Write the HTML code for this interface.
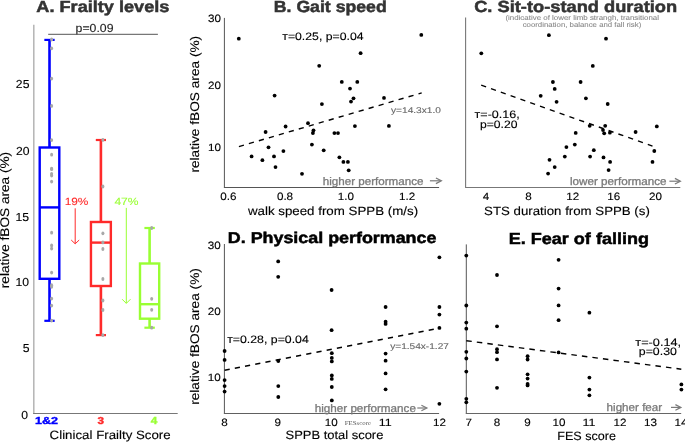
<!DOCTYPE html>
<html><head><meta charset="utf-8"><style>
html,body{margin:0;padding:0;background:#fff;}
body{width:685px;height:442px;overflow:hidden;font-family:"Liberation Sans", sans-serif;}
svg{display:block;will-change:transform;text-rendering:geometricPrecision;}
</style></head><body>
<svg width="685" height="442" viewBox="0 0 685 442">
<rect width="685" height="442" fill="#fff"/>
<text x="36.35" y="12.00" font-family='"Liberation Sans", sans-serif' font-size="16" font-weight="bold" fill="#333333" textLength="132.99" lengthAdjust="spacingAndGlyphs" stroke="#333333" stroke-width="0.5">A. Frailty levels</text>
<text x="75.61" y="31.70" font-family='"Liberation Sans", sans-serif' font-size="11.6" font-weight="normal" fill="#222" textLength="37.87" lengthAdjust="spacingAndGlyphs" stroke="#222" stroke-width="0.12">p=0.09</text>
<line x1="48.2" y1="34.3" x2="157.9" y2="34.3" stroke="#555" stroke-width="1"/>
<line x1="33.8" y1="24.8" x2="33.8" y2="413.5" stroke="#b4b4b4" stroke-width="1.5"/>
<line x1="33.1" y1="413.5" x2="177.7" y2="413.5" stroke="#777" stroke-width="1"/>
<text x="15.86" y="87.50" font-family='"Liberation Sans", sans-serif' font-size="11.6" font-weight="normal" fill="#000" textLength="13.55" lengthAdjust="spacingAndGlyphs" stroke="#000" stroke-width="0.12">25</text>
<text x="15.93" y="154.80" font-family='"Liberation Sans", sans-serif' font-size="11.6" font-weight="normal" fill="#000" textLength="13.55" lengthAdjust="spacingAndGlyphs" stroke="#000" stroke-width="0.12">20</text>
<text x="15.56" y="220.80" font-family='"Liberation Sans", sans-serif' font-size="11.6" font-weight="normal" fill="#000" textLength="13.55" lengthAdjust="spacingAndGlyphs" stroke="#000" stroke-width="0.12">15</text>
<text x="15.53" y="286.40" font-family='"Liberation Sans", sans-serif' font-size="11.6" font-weight="normal" fill="#000" textLength="13.55" lengthAdjust="spacingAndGlyphs" stroke="#000" stroke-width="0.12">10</text>
<text x="22.84" y="351.60" font-family='"Liberation Sans", sans-serif' font-size="11.6" font-weight="normal" fill="#000" textLength="6.77" lengthAdjust="spacingAndGlyphs" stroke="#000" stroke-width="0.12">5</text>
<text x="21.20" y="419.00" font-family='"Liberation Sans", sans-serif' font-size="11.6" font-weight="normal" fill="#000" textLength="6.77" lengthAdjust="spacingAndGlyphs" stroke="#000" stroke-width="0.12">0</text>
<text transform="translate(9.30,287.30) rotate(-90)" x="-0.91" y="0" font-family='"Liberation Sans", sans-serif' font-size="12.5" font-weight="normal" fill="#000" stroke="#000" stroke-width="0.12" textLength="136.35" lengthAdjust="spacingAndGlyphs">relative fBOS area (%)</text>
<rect x="39.7" y="147.5" width="19.6" height="131.3" fill="none" stroke="#0000ff" stroke-width="2.4"/>
<line x1="39.7" y1="207.4" x2="59.3" y2="207.4" stroke="#0000ff" stroke-width="2.4"/>
<line x1="49.5" y1="39.9" x2="49.5" y2="147.5" stroke="#0000ff" stroke-width="2.6"/>
<line x1="49.5" y1="278.8" x2="49.5" y2="320.8" stroke="#0000ff" stroke-width="2.6"/>
<line x1="44.35" y1="39.9" x2="54.65" y2="39.9" stroke="#0000ff" stroke-width="2.2"/>
<line x1="44.35" y1="320.8" x2="54.65" y2="320.8" stroke="#0000ff" stroke-width="2.2"/>
<rect x="90.95" y="222.0" width="19.9" height="64.0" fill="none" stroke="#ff2a2a" stroke-width="2.4"/>
<line x1="90.95" y1="242.6" x2="110.85000000000001" y2="242.6" stroke="#ff2a2a" stroke-width="2.4"/>
<line x1="100.9" y1="140.0" x2="100.9" y2="222.0" stroke="#ff2a2a" stroke-width="2.6"/>
<line x1="100.9" y1="286.0" x2="100.9" y2="335.1" stroke="#ff2a2a" stroke-width="2.6"/>
<line x1="95.80000000000001" y1="140.0" x2="106.0" y2="140.0" stroke="#ff2a2a" stroke-width="2.2"/>
<line x1="95.80000000000001" y1="335.1" x2="106.0" y2="335.1" stroke="#ff2a2a" stroke-width="2.2"/>
<rect x="140.0" y="263.5" width="19.2" height="55.19999999999999" fill="none" stroke="#99ff33" stroke-width="2.4"/>
<line x1="140.0" y1="304.2" x2="159.2" y2="304.2" stroke="#99ff33" stroke-width="2.4"/>
<line x1="149.6" y1="228.0" x2="149.6" y2="263.5" stroke="#99ff33" stroke-width="2.6"/>
<line x1="149.6" y1="318.7" x2="149.6" y2="327.7" stroke="#99ff33" stroke-width="2.6"/>
<line x1="144.4" y1="228.0" x2="154.79999999999998" y2="228.0" stroke="#99ff33" stroke-width="2.2"/>
<line x1="144.4" y1="327.7" x2="154.79999999999998" y2="327.7" stroke="#99ff33" stroke-width="2.2"/>
<ellipse cx="51.6" cy="39.5" rx="1.5" ry="1.9" fill="#a8a8a8"/>
<ellipse cx="51.6" cy="48.3" rx="1.5" ry="1.9" fill="#a8a8a8"/>
<ellipse cx="51.6" cy="78.6" rx="1.5" ry="1.9" fill="#a8a8a8"/>
<ellipse cx="51.6" cy="105.9" rx="1.5" ry="1.9" fill="#a8a8a8"/>
<ellipse cx="51.6" cy="140.1" rx="1.5" ry="1.9" fill="#a8a8a8"/>
<ellipse cx="51.6" cy="154.7" rx="1.5" ry="1.9" fill="#a8a8a8"/>
<ellipse cx="51.6" cy="168.6" rx="1.5" ry="1.9" fill="#a8a8a8"/>
<ellipse cx="51.6" cy="169.2" rx="1.5" ry="1.9" fill="#a8a8a8"/>
<ellipse cx="51.6" cy="173.8" rx="1.5" ry="1.9" fill="#a8a8a8"/>
<ellipse cx="51.6" cy="175.5" rx="1.5" ry="1.9" fill="#a8a8a8"/>
<ellipse cx="51.6" cy="181.6" rx="1.5" ry="1.9" fill="#a8a8a8"/>
<ellipse cx="51.6" cy="232.7" rx="1.5" ry="1.9" fill="#a8a8a8"/>
<ellipse cx="51.6" cy="245.5" rx="1.5" ry="1.9" fill="#a8a8a8"/>
<ellipse cx="51.6" cy="248.6" rx="1.5" ry="1.9" fill="#a8a8a8"/>
<ellipse cx="51.6" cy="272.6" rx="1.5" ry="1.9" fill="#a8a8a8"/>
<ellipse cx="51.6" cy="285.2" rx="1.5" ry="1.9" fill="#a8a8a8"/>
<ellipse cx="51.6" cy="286.8" rx="1.5" ry="1.9" fill="#a8a8a8"/>
<ellipse cx="51.6" cy="298.6" rx="1.5" ry="1.9" fill="#a8a8a8"/>
<ellipse cx="51.6" cy="305.6" rx="1.5" ry="1.9" fill="#a8a8a8"/>
<ellipse cx="51.6" cy="320.6" rx="1.5" ry="1.9" fill="#a8a8a8"/>
<ellipse cx="102.9" cy="139.9" rx="1.5" ry="1.9" fill="#a8a8a8"/>
<ellipse cx="102.9" cy="186.5" rx="1.5" ry="1.9" fill="#a8a8a8"/>
<ellipse cx="102.9" cy="233.3" rx="1.5" ry="1.9" fill="#a8a8a8"/>
<ellipse cx="102.9" cy="242.4" rx="1.5" ry="1.9" fill="#a8a8a8"/>
<ellipse cx="102.9" cy="249" rx="1.5" ry="1.9" fill="#a8a8a8"/>
<ellipse cx="102.9" cy="279.0" rx="1.5" ry="1.9" fill="#a8a8a8"/>
<ellipse cx="102.9" cy="300.5" rx="1.5" ry="1.9" fill="#a8a8a8"/>
<ellipse cx="102.9" cy="310" rx="1.5" ry="1.9" fill="#a8a8a8"/>
<ellipse cx="102.9" cy="335.1" rx="1.5" ry="1.9" fill="#a8a8a8"/>
<ellipse cx="151.7" cy="228" rx="1.5" ry="1.9" fill="#a8a8a8"/>
<ellipse cx="151.7" cy="298.8" rx="1.5" ry="1.9" fill="#a8a8a8"/>
<ellipse cx="151.7" cy="309.8" rx="1.5" ry="1.9" fill="#a8a8a8"/>
<ellipse cx="151.7" cy="327.7" rx="1.5" ry="1.9" fill="#a8a8a8"/>
<text x="64.70" y="204.70" font-family='"Liberation Sans", sans-serif' font-size="10.5" font-weight="normal" fill="#ff2a2a" textLength="23.73" lengthAdjust="spacingAndGlyphs" stroke="#ff2a2a" stroke-width="0.1">19%</text>
<line x1="75.2" y1="208.3" x2="75.2" y2="243.5" stroke="#ff2a2a" stroke-width="1"/>
<polyline points="71.2,240 75.2,243.8 79.2,240" fill="none" stroke="#ff2a2a" stroke-width="1"/>
<text x="114.42" y="204.70" font-family='"Liberation Sans", sans-serif' font-size="10.5" font-weight="normal" fill="#99ff33" textLength="24.11" lengthAdjust="spacingAndGlyphs" stroke="#99ff33" stroke-width="0.1">47%</text>
<line x1="126.3" y1="207.9" x2="126.3" y2="303.2" stroke="#99ff33" stroke-width="1"/>
<polyline points="122.1,299.2 126.3,303.4 130.5,299.2" fill="none" stroke="#99ff33" stroke-width="1"/>
<text x="35.01" y="423.80" font-family='"Liberation Sans", sans-serif' font-size="10.2" font-weight="bold" fill="#0000ff" textLength="22.99" lengthAdjust="spacingAndGlyphs" stroke="#0000ff" stroke-width="0.4">1&amp;2</text>
<text x="97.62" y="423.80" font-family='"Liberation Sans", sans-serif' font-size="10.2" font-weight="bold" fill="#ff2a2a" textLength="6.52" lengthAdjust="spacingAndGlyphs" stroke="#ff2a2a" stroke-width="0.4">3</text>
<text x="150.68" y="423.80" font-family='"Liberation Sans", sans-serif' font-size="10.2" font-weight="bold" fill="#99ff33" textLength="6.52" lengthAdjust="spacingAndGlyphs" stroke="#99ff33" stroke-width="0.4">4</text>
<text x="49.63" y="439.40" font-family='"Liberation Sans", sans-serif' font-size="12" font-weight="normal" fill="#000" textLength="121.06" lengthAdjust="spacingAndGlyphs" stroke="#000" stroke-width="0.12">Clinical Frailty Score</text>
<text x="273.82" y="12.00" font-family='"Liberation Sans", sans-serif' font-size="16" font-weight="bold" fill="#333333" textLength="112.85" lengthAdjust="spacingAndGlyphs" stroke="#333333" stroke-width="0.5">B. Gait speed</text>
<text x="282.29" y="40.20" font-family='"Liberation Sans", sans-serif' font-size="10.75" font-weight="normal" fill="#000" textLength="81.27" lengthAdjust="spacingAndGlyphs" stroke="#000" stroke-width="0.12">т=0.25, p=0.04</text>
<line x1="224.4" y1="17.9" x2="224.4" y2="187.3" stroke="#555" stroke-width="1"/>
<line x1="223.9" y1="187.5" x2="439.1" y2="187.5" stroke="#555" stroke-width="1"/>
<text x="207.99" y="22.20" font-family='"Liberation Sans", sans-serif' font-size="10.6" font-weight="normal" fill="#000" textLength="12.97" lengthAdjust="spacingAndGlyphs" stroke="#000" stroke-width="0.12">30</text>
<text x="207.99" y="88.50" font-family='"Liberation Sans", sans-serif' font-size="10.6" font-weight="normal" fill="#000" textLength="12.97" lengthAdjust="spacingAndGlyphs" stroke="#000" stroke-width="0.12">20</text>
<text x="207.99" y="151.20" font-family='"Liberation Sans", sans-serif' font-size="10.6" font-weight="normal" fill="#000" textLength="12.97" lengthAdjust="spacingAndGlyphs" stroke="#000" stroke-width="0.12">10</text>
<text transform="translate(198.60,171.70) rotate(-90)" x="-0.91" y="0" font-family='"Liberation Sans", sans-serif' font-size="12.5" font-weight="normal" fill="#000" stroke="#000" stroke-width="0.12" textLength="136.76" lengthAdjust="spacingAndGlyphs">relative fBOS area (%)</text>
<text x="220.32" y="199.80" font-family='"Liberation Sans", sans-serif' font-size="10.6" font-weight="normal" fill="#000" textLength="16.21" lengthAdjust="spacingAndGlyphs" stroke="#000" stroke-width="0.12">0.6</text>
<text x="276.92" y="199.80" font-family='"Liberation Sans", sans-serif' font-size="10.6" font-weight="normal" fill="#000" textLength="16.21" lengthAdjust="spacingAndGlyphs" stroke="#000" stroke-width="0.12">0.8</text>
<text x="337.68" y="199.80" font-family='"Liberation Sans", sans-serif' font-size="10.6" font-weight="normal" fill="#000" textLength="16.21" lengthAdjust="spacingAndGlyphs" stroke="#000" stroke-width="0.12">1.0</text>
<text x="399.14" y="199.80" font-family='"Liberation Sans", sans-serif' font-size="10.6" font-weight="normal" fill="#000" textLength="16.21" lengthAdjust="spacingAndGlyphs" stroke="#000" stroke-width="0.12">1.2</text>
<text x="247.92" y="214.90" font-family='"Liberation Sans", sans-serif' font-size="12" font-weight="normal" fill="#000" textLength="170.21" lengthAdjust="spacingAndGlyphs" stroke="#000" stroke-width="0.12">walk speed from SPPB (m/s)</text>
<text x="322.69" y="184.50" font-family='"Liberation Sans", sans-serif' font-size="11" font-weight="normal" fill="#7a7a7a" textLength="100.82" lengthAdjust="spacingAndGlyphs" stroke="#7a7a7a" stroke-width="0.3">higher performance</text>
<line x1="429.9" y1="180.8" x2="440.79999999999995" y2="180.8" stroke="#7a7a7a" stroke-width="1.2"/>
<polyline points="435.9,178.0 441.4,180.8 435.9,183.60000000000002" fill="none" stroke="#7a7a7a" stroke-width="1.2"/>
<text x="390.98" y="113.00" font-family='"Liberation Sans", sans-serif' font-size="8.4" font-weight="normal" fill="#666" textLength="50.02" lengthAdjust="spacingAndGlyphs" stroke="#666" stroke-width="0.1">y=14.3x1.0</text>
<line x1="238.9" y1="146.6" x2="421.7" y2="92.9" stroke="#000" stroke-width="1.4" stroke-dasharray="5.2 5.2"/>
<circle cx="238.8" cy="38.7" r="1.9" fill="#000"/>
<circle cx="319.2" cy="65.8" r="1.9" fill="#000"/>
<circle cx="274.6" cy="95.6" r="1.9" fill="#000"/>
<circle cx="421.3" cy="34.9" r="1.9" fill="#000"/>
<circle cx="360.6" cy="53.2" r="1.9" fill="#000"/>
<circle cx="341.8" cy="81.9" r="1.9" fill="#000"/>
<circle cx="357.3" cy="81.9" r="1.9" fill="#000"/>
<circle cx="350.0" cy="88.6" r="1.9" fill="#000"/>
<circle cx="353.5" cy="98.3" r="1.9" fill="#000"/>
<circle cx="351.0" cy="101.6" r="1.9" fill="#000"/>
<circle cx="384.0" cy="97.9" r="1.9" fill="#000"/>
<circle cx="321.9" cy="104.1" r="1.9" fill="#000"/>
<circle cx="308.0" cy="123.2" r="1.9" fill="#000"/>
<circle cx="285.6" cy="126.5" r="1.9" fill="#000"/>
<circle cx="265.6" cy="132.0" r="1.9" fill="#000"/>
<circle cx="313.5" cy="130.3" r="1.9" fill="#000"/>
<circle cx="312.9" cy="133.0" r="1.9" fill="#000"/>
<circle cx="334.4" cy="133.1" r="1.9" fill="#000"/>
<circle cx="338.0" cy="133.1" r="1.9" fill="#000"/>
<circle cx="268.5" cy="147.3" r="1.9" fill="#000"/>
<circle cx="311.9" cy="144.6" r="1.9" fill="#000"/>
<circle cx="283.4" cy="151.1" r="1.9" fill="#000"/>
<circle cx="323.7" cy="150.3" r="1.9" fill="#000"/>
<circle cx="251.6" cy="156.4" r="1.9" fill="#000"/>
<circle cx="262.4" cy="160.2" r="1.9" fill="#000"/>
<circle cx="274.0" cy="156.4" r="1.9" fill="#000"/>
<circle cx="339.4" cy="157.3" r="1.9" fill="#000"/>
<circle cx="275.5" cy="167.1" r="1.9" fill="#000"/>
<circle cx="302.0" cy="173.8" r="1.9" fill="#000"/>
<circle cx="354.9" cy="126.1" r="1.9" fill="#000"/>
<circle cx="388.9" cy="125.9" r="1.9" fill="#000"/>
<circle cx="343.4" cy="161.9" r="1.9" fill="#000"/>
<circle cx="347.9" cy="161.9" r="1.9" fill="#000"/>
<circle cx="348.7" cy="170.3" r="1.9" fill="#000"/>
<text x="474.15" y="12.00" font-family='"Liberation Sans", sans-serif' font-size="16" font-weight="bold" fill="#333333" textLength="202.98" lengthAdjust="spacingAndGlyphs" stroke="#333333" stroke-width="0.5">C. Sit-to-stand duration</text>
<text x="505.41" y="20.40" font-family='"Liberation Sans", sans-serif' font-size="7" font-weight="normal" fill="#888" textLength="153.62" lengthAdjust="spacingAndGlyphs" stroke="#888" stroke-width="0.08">(indicative of lower limb strangh, transitional</text>
<text x="522.67" y="26.60" font-family='"Liberation Sans", sans-serif' font-size="7" font-weight="normal" fill="#888" textLength="118.62" lengthAdjust="spacingAndGlyphs" stroke="#888" stroke-width="0.08">coordination, balance and fall risk)</text>
<line x1="465.6" y1="17.5" x2="465.6" y2="187.3" stroke="#777" stroke-width="1.1"/>
<line x1="465.1" y1="187.5" x2="680.3" y2="187.5" stroke="#777" stroke-width="1"/>
<text x="482.89" y="199.80" font-family='"Liberation Sans", sans-serif' font-size="10.6" font-weight="normal" fill="#000" textLength="6.48" lengthAdjust="spacingAndGlyphs" stroke="#000" stroke-width="0.12">4</text>
<text x="525.26" y="199.80" font-family='"Liberation Sans", sans-serif' font-size="10.6" font-weight="normal" fill="#000" textLength="6.48" lengthAdjust="spacingAndGlyphs" stroke="#000" stroke-width="0.12">8</text>
<text x="566.16" y="199.80" font-family='"Liberation Sans", sans-serif' font-size="10.6" font-weight="normal" fill="#000" textLength="12.97" lengthAdjust="spacingAndGlyphs" stroke="#000" stroke-width="0.12">12</text>
<text x="607.33" y="199.80" font-family='"Liberation Sans", sans-serif' font-size="10.6" font-weight="normal" fill="#000" textLength="12.97" lengthAdjust="spacingAndGlyphs" stroke="#000" stroke-width="0.12">16</text>
<text x="649.05" y="199.80" font-family='"Liberation Sans", sans-serif' font-size="10.6" font-weight="normal" fill="#000" textLength="12.97" lengthAdjust="spacingAndGlyphs" stroke="#000" stroke-width="0.12">20</text>
<text x="484.10" y="214.90" font-family='"Liberation Sans", sans-serif' font-size="12" font-weight="normal" fill="#000" textLength="165.72" lengthAdjust="spacingAndGlyphs" stroke="#000" stroke-width="0.12">STS duration from SPPB (s)</text>
<text x="570.01" y="184.50" font-family='"Liberation Sans", sans-serif' font-size="11" font-weight="normal" fill="#7a7a7a" textLength="96.50" lengthAdjust="spacingAndGlyphs" stroke="#7a7a7a" stroke-width="0.3">lower performance</text>
<line x1="669.4" y1="181.2" x2="679.8" y2="181.2" stroke="#7a7a7a" stroke-width="1.2"/>
<polyline points="674.9,178.39999999999998 680.4,181.2 674.9,184.0" fill="none" stroke="#7a7a7a" stroke-width="1.2"/>
<text x="474.59" y="117.90" font-family='"Liberation Sans", sans-serif' font-size="10.75" font-weight="normal" fill="#000" textLength="45.14" lengthAdjust="spacingAndGlyphs" stroke="#000" stroke-width="0.12">т=-0.16,</text>
<text x="480.02" y="127.60" font-family='"Liberation Sans", sans-serif' font-size="10.75" font-weight="normal" fill="#000" textLength="37.46" lengthAdjust="spacingAndGlyphs" stroke="#000" stroke-width="0.12">p=0.20</text>
<line x1="481.2" y1="85.2" x2="652.5" y2="146.1" stroke="#000" stroke-width="1.4" stroke-dasharray="5.2 5.2"/>
<circle cx="548.9" cy="35.2" r="1.9" fill="#000"/>
<circle cx="481.3" cy="53.3" r="1.9" fill="#000"/>
<circle cx="606.0" cy="38.7" r="1.9" fill="#000"/>
<circle cx="552.9" cy="82.0" r="1.9" fill="#000"/>
<circle cx="554.7" cy="88.9" r="1.9" fill="#000"/>
<circle cx="540.7" cy="95.8" r="1.9" fill="#000"/>
<circle cx="556.6" cy="101.8" r="1.9" fill="#000"/>
<circle cx="575.7" cy="132.9" r="1.9" fill="#000"/>
<circle cx="592.8" cy="65.9" r="1.9" fill="#000"/>
<circle cx="580.6" cy="82.0" r="1.9" fill="#000"/>
<circle cx="585.9" cy="98.3" r="1.9" fill="#000"/>
<circle cx="607.7" cy="104.0" r="1.9" fill="#000"/>
<circle cx="589.7" cy="125.8" r="1.9" fill="#000"/>
<circle cx="605.2" cy="125.8" r="1.9" fill="#000"/>
<circle cx="603.0" cy="130.1" r="1.9" fill="#000"/>
<circle cx="604.2" cy="133.3" r="1.9" fill="#000"/>
<circle cx="609.9" cy="132.7" r="1.9" fill="#000"/>
<circle cx="635.6" cy="132.0" r="1.9" fill="#000"/>
<circle cx="656.8" cy="126.4" r="1.9" fill="#000"/>
<circle cx="574.8" cy="144.6" r="1.9" fill="#000"/>
<circle cx="566.4" cy="147.1" r="1.9" fill="#000"/>
<circle cx="564.8" cy="156.6" r="1.9" fill="#000"/>
<circle cx="549.5" cy="159.8" r="1.9" fill="#000"/>
<circle cx="554.7" cy="167.1" r="1.9" fill="#000"/>
<circle cx="548.1" cy="173.6" r="1.9" fill="#000"/>
<circle cx="654.3" cy="151.0" r="1.9" fill="#000"/>
<circle cx="652.5" cy="161.9" r="1.9" fill="#000"/>
<circle cx="593.8" cy="150.2" r="1.9" fill="#000"/>
<circle cx="590.1" cy="156.6" r="1.9" fill="#000"/>
<circle cx="603.5" cy="157.4" r="1.9" fill="#000"/>
<circle cx="610.1" cy="161.9" r="1.9" fill="#000"/>
<circle cx="608.6" cy="170.1" r="1.9" fill="#000"/>
<text x="227.80" y="243.00" font-family='"Liberation Sans", sans-serif' font-size="15.6" font-weight="bold" fill="#000" textLength="208.61" lengthAdjust="spacingAndGlyphs" stroke="#000" stroke-width="0.5">D. Physical performance</text>
<line x1="224.4" y1="244.0" x2="224.4" y2="413.6" stroke="#555" stroke-width="1"/>
<line x1="223.9" y1="413.5" x2="439.1" y2="413.5" stroke="#606060" stroke-width="1"/>
<text x="207.79" y="249.20" font-family='"Liberation Sans", sans-serif' font-size="10.6" font-weight="normal" fill="#000" textLength="12.97" lengthAdjust="spacingAndGlyphs" stroke="#000" stroke-width="0.12">30</text>
<text x="207.79" y="314.90" font-family='"Liberation Sans", sans-serif' font-size="10.6" font-weight="normal" fill="#000" textLength="12.97" lengthAdjust="spacingAndGlyphs" stroke="#000" stroke-width="0.12">20</text>
<text x="207.79" y="381.30" font-family='"Liberation Sans", sans-serif' font-size="10.6" font-weight="normal" fill="#000" textLength="12.97" lengthAdjust="spacingAndGlyphs" stroke="#000" stroke-width="0.12">10</text>
<text transform="translate(199.30,403.90) rotate(-90)" x="-0.91" y="0" font-family='"Liberation Sans", sans-serif' font-size="12.5" font-weight="normal" fill="#000" stroke="#000" stroke-width="0.12" textLength="136.65" lengthAdjust="spacingAndGlyphs">relative fBOS area (%)</text>
<text x="221.26" y="425.90" font-family='"Liberation Sans", sans-serif' font-size="10.6" font-weight="normal" fill="#000" textLength="6.48" lengthAdjust="spacingAndGlyphs" stroke="#000" stroke-width="0.12">8</text>
<text x="274.46" y="425.90" font-family='"Liberation Sans", sans-serif' font-size="10.6" font-weight="normal" fill="#000" textLength="6.48" lengthAdjust="spacingAndGlyphs" stroke="#000" stroke-width="0.12">9</text>
<text x="324.70" y="425.90" font-family='"Liberation Sans", sans-serif' font-size="10.6" font-weight="normal" fill="#000" textLength="12.97" lengthAdjust="spacingAndGlyphs" stroke="#000" stroke-width="0.12">10</text>
<text x="378.76" y="425.90" font-family='"Liberation Sans", sans-serif' font-size="10.6" font-weight="normal" fill="#000" textLength="12.97" lengthAdjust="spacingAndGlyphs" stroke="#000" stroke-width="0.12">11</text>
<text x="432.96" y="425.90" font-family='"Liberation Sans", sans-serif' font-size="10.6" font-weight="normal" fill="#000" textLength="12.97" lengthAdjust="spacingAndGlyphs" stroke="#000" stroke-width="0.12">12</text>
<text x="344.80" y="424.60" font-family='"Liberation Serif", serif' font-size="6" font-weight="normal" fill="#555" textLength="26.13" lengthAdjust="spacingAndGlyphs">FESscore</text>
<text x="285.51" y="439.40" font-family='"Liberation Sans", sans-serif' font-size="12" font-weight="normal" fill="#000" textLength="97.86" lengthAdjust="spacingAndGlyphs" stroke="#000" stroke-width="0.12">SPPB total score</text>
<text x="314.69" y="411.50" font-family='"Liberation Sans", sans-serif' font-size="11" font-weight="normal" fill="#7a7a7a" textLength="101.23" lengthAdjust="spacingAndGlyphs" stroke="#7a7a7a" stroke-width="0.3">higher performance</text>
<line x1="417.3" y1="408.0" x2="426.29999999999995" y2="408.0" stroke="#7a7a7a" stroke-width="1.2"/>
<polyline points="421.4,405.2 426.9,408.0 421.4,410.8" fill="none" stroke="#7a7a7a" stroke-width="1.2"/>
<text x="227.19" y="343.10" font-family='"Liberation Sans", sans-serif' font-size="10.75" font-weight="normal" fill="#000" textLength="81.57" lengthAdjust="spacingAndGlyphs" stroke="#000" stroke-width="0.12">т=0.28, p=0.04</text>
<text x="390.18" y="348.80" font-family='"Liberation Sans", sans-serif' font-size="8.4" font-weight="normal" fill="#666" textLength="58.73" lengthAdjust="spacingAndGlyphs" stroke="#666" stroke-width="0.1">y=1.54x-1.27</text>
<line x1="224.6" y1="370.3" x2="439.4" y2="328.1" stroke="#000" stroke-width="1.4" stroke-dasharray="5.2 5.2"/>
<circle cx="278.2" cy="261.4" r="1.9" fill="#000"/>
<circle cx="278.2" cy="276.8" r="1.9" fill="#000"/>
<circle cx="331.6" cy="290.0" r="1.9" fill="#000"/>
<circle cx="331.6" cy="330.2" r="1.9" fill="#000"/>
<circle cx="439.4" cy="257.3" r="1.9" fill="#000"/>
<circle cx="224.6" cy="351.0" r="1.9" fill="#000"/>
<circle cx="224.6" cy="359.9" r="1.9" fill="#000"/>
<circle cx="224.6" cy="380.1" r="1.9" fill="#000"/>
<circle cx="224.6" cy="386.1" r="1.9" fill="#000"/>
<circle cx="224.6" cy="391.6" r="1.9" fill="#000"/>
<circle cx="278.3" cy="361.0" r="1.9" fill="#000"/>
<circle cx="278.3" cy="386.1" r="1.9" fill="#000"/>
<circle cx="278.3" cy="397.0" r="1.9" fill="#000"/>
<circle cx="331.8" cy="353.2" r="1.9" fill="#000"/>
<circle cx="331.8" cy="357.9" r="1.9" fill="#000"/>
<circle cx="331.8" cy="361.4" r="1.9" fill="#000"/>
<circle cx="331.8" cy="375.4" r="1.9" fill="#000"/>
<circle cx="331.8" cy="378.9" r="1.9" fill="#000"/>
<circle cx="331.8" cy="387.0" r="1.9" fill="#000"/>
<circle cx="331.8" cy="400.4" r="1.9" fill="#000"/>
<circle cx="385.6" cy="307.0" r="1.9" fill="#000"/>
<circle cx="385.6" cy="321.7" r="1.9" fill="#000"/>
<circle cx="385.6" cy="323.9" r="1.9" fill="#000"/>
<circle cx="385.6" cy="353.6" r="1.9" fill="#000"/>
<circle cx="385.6" cy="360.7" r="1.9" fill="#000"/>
<circle cx="385.6" cy="373.4" r="1.9" fill="#000"/>
<circle cx="385.6" cy="389.3" r="1.9" fill="#000"/>
<circle cx="439.4" cy="307.0" r="1.9" fill="#000"/>
<circle cx="439.4" cy="314.6" r="1.9" fill="#000"/>
<circle cx="439.4" cy="327.9" r="1.9" fill="#000"/>
<circle cx="439.4" cy="403.8" r="1.9" fill="#000"/>
<text x="508.69" y="244.00" font-family='"Liberation Sans", sans-serif' font-size="16" font-weight="bold" fill="#000" textLength="140.31" lengthAdjust="spacingAndGlyphs" stroke="#000" stroke-width="0.5">E. Fear of falling</text>
<line x1="466.3" y1="244.4" x2="466.3" y2="413.6" stroke="#555" stroke-width="1"/>
<line x1="465.8" y1="413.5" x2="681.2" y2="413.5" stroke="#666" stroke-width="1"/>
<text x="465.55" y="425.90" font-family='"Liberation Sans", sans-serif' font-size="10.6" font-weight="normal" fill="#000" textLength="6.48" lengthAdjust="spacingAndGlyphs" stroke="#000" stroke-width="0.12">7</text>
<text x="493.66" y="425.90" font-family='"Liberation Sans", sans-serif' font-size="10.6" font-weight="normal" fill="#000" textLength="6.48" lengthAdjust="spacingAndGlyphs" stroke="#000" stroke-width="0.12">8</text>
<text x="524.26" y="425.90" font-family='"Liberation Sans", sans-serif' font-size="10.6" font-weight="normal" fill="#000" textLength="6.48" lengthAdjust="spacingAndGlyphs" stroke="#000" stroke-width="0.12">9</text>
<text x="552.50" y="425.90" font-family='"Liberation Sans", sans-serif' font-size="10.6" font-weight="normal" fill="#000" textLength="12.97" lengthAdjust="spacingAndGlyphs" stroke="#000" stroke-width="0.12">10</text>
<text x="582.56" y="425.90" font-family='"Liberation Sans", sans-serif' font-size="10.6" font-weight="normal" fill="#000" textLength="12.97" lengthAdjust="spacingAndGlyphs" stroke="#000" stroke-width="0.12">11</text>
<text x="613.46" y="425.90" font-family='"Liberation Sans", sans-serif' font-size="10.6" font-weight="normal" fill="#000" textLength="12.97" lengthAdjust="spacingAndGlyphs" stroke="#000" stroke-width="0.12">12</text>
<text x="644.13" y="425.90" font-family='"Liberation Sans", sans-serif' font-size="10.6" font-weight="normal" fill="#000" textLength="12.97" lengthAdjust="spacingAndGlyphs" stroke="#000" stroke-width="0.12">13</text>
<text x="674.44" y="425.90" font-family='"Liberation Sans", sans-serif' font-size="10.6" font-weight="normal" fill="#000" textLength="12.97" lengthAdjust="spacingAndGlyphs" stroke="#000" stroke-width="0.12">14</text>
<text x="557.27" y="439.80" font-family='"Liberation Sans", sans-serif' font-size="12" font-weight="normal" fill="#000" textLength="58.69" lengthAdjust="spacingAndGlyphs" stroke="#000" stroke-width="0.12">FES score</text>
<text x="606.59" y="411.00" font-family='"Liberation Sans", sans-serif' font-size="11" font-weight="normal" fill="#7a7a7a" textLength="55.60" lengthAdjust="spacingAndGlyphs" stroke="#7a7a7a" stroke-width="0.3">higher fear</text>
<line x1="671.0" y1="407.4" x2="680.3" y2="407.4" stroke="#7a7a7a" stroke-width="1.2"/>
<polyline points="675.4,404.59999999999997 680.9,407.4 675.4,410.2" fill="none" stroke="#7a7a7a" stroke-width="1.2"/>
<text x="635.38" y="345.70" font-family='"Liberation Sans", sans-serif' font-size="10.75" font-weight="normal" fill="#000" textLength="45.76" lengthAdjust="spacingAndGlyphs" stroke="#000" stroke-width="0.12">т=-0.14,</text>
<text x="638.80" y="355.10" font-family='"Liberation Sans", sans-serif' font-size="10.75" font-weight="normal" fill="#000" textLength="38.08" lengthAdjust="spacingAndGlyphs" stroke="#000" stroke-width="0.12">p=0.30</text>
<line x1="466.3" y1="340.7" x2="681.3" y2="369.2" stroke="#000" stroke-width="1.4" stroke-dasharray="5.5 5.1"/>
<circle cx="466.3" cy="255.6" r="1.9" fill="#000"/>
<circle cx="466.3" cy="305.5" r="1.9" fill="#000"/>
<circle cx="466.3" cy="322.6" r="1.9" fill="#000"/>
<circle cx="466.3" cy="328.7" r="1.9" fill="#000"/>
<circle cx="466.3" cy="351.8" r="1.9" fill="#000"/>
<circle cx="466.3" cy="358.5" r="1.9" fill="#000"/>
<circle cx="466.3" cy="371.6" r="1.9" fill="#000"/>
<circle cx="466.3" cy="398.8" r="1.9" fill="#000"/>
<circle cx="466.3" cy="402.3" r="1.9" fill="#000"/>
<circle cx="497.0" cy="275.0" r="1.9" fill="#000"/>
<circle cx="497.0" cy="326.3" r="1.9" fill="#000"/>
<circle cx="497.0" cy="349.2" r="1.9" fill="#000"/>
<circle cx="497.0" cy="352.2" r="1.9" fill="#000"/>
<circle cx="497.0" cy="359.4" r="1.9" fill="#000"/>
<circle cx="497.0" cy="387.8" r="1.9" fill="#000"/>
<circle cx="527.6" cy="356.2" r="1.9" fill="#000"/>
<circle cx="527.6" cy="359.5" r="1.9" fill="#000"/>
<circle cx="527.6" cy="374.3" r="1.9" fill="#000"/>
<circle cx="527.6" cy="378.6" r="1.9" fill="#000"/>
<circle cx="527.6" cy="383.9" r="1.9" fill="#000"/>
<circle cx="527.6" cy="385.4" r="1.9" fill="#000"/>
<circle cx="558.6" cy="259.8" r="1.9" fill="#000"/>
<circle cx="558.6" cy="288.6" r="1.9" fill="#000"/>
<circle cx="558.6" cy="305.4" r="1.9" fill="#000"/>
<circle cx="558.6" cy="320.2" r="1.9" fill="#000"/>
<circle cx="558.6" cy="352.4" r="1.9" fill="#000"/>
<circle cx="589.4" cy="312.7" r="1.9" fill="#000"/>
<circle cx="589.4" cy="377.6" r="1.9" fill="#000"/>
<circle cx="589.4" cy="389.6" r="1.9" fill="#000"/>
<circle cx="589.4" cy="395.3" r="1.9" fill="#000"/>
<circle cx="681.4" cy="384.4" r="1.9" fill="#000"/>
<circle cx="681.4" cy="389.6" r="1.9" fill="#000"/>
</svg>
</body></html>
